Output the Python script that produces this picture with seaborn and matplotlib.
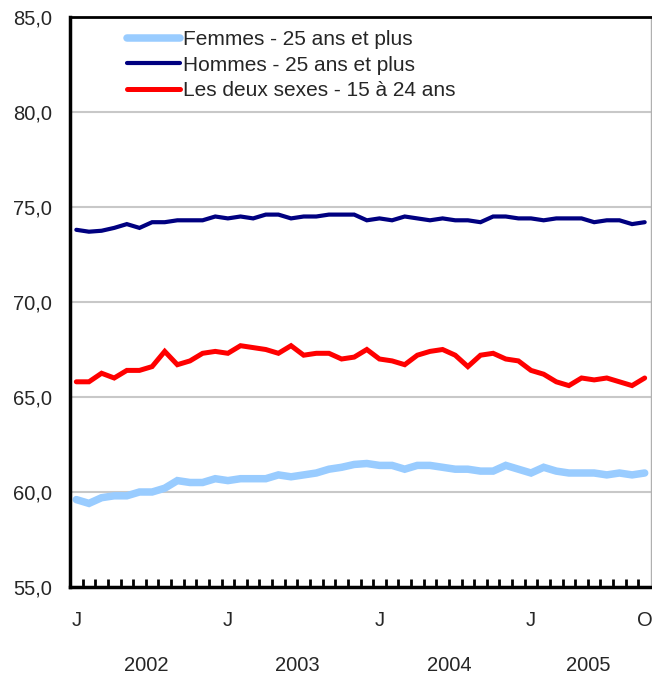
import numpy as np
import pandas as pd
import matplotlib
matplotlib.use("Agg")
import matplotlib.pyplot as plt
from matplotlib.ticker import FixedLocator, FuncFormatter
import seaborn as sns

# --- DONNEES (janvier 2002 a octobre 2005, mensuel) ---
femmes = [59.6, 59.4, 59.7, 59.8, 59.8, 60.0, 60.0, 60.2, 60.6, 60.5, 60.5, 60.7,
          60.6, 60.7, 60.7, 60.7, 60.9, 60.8, 60.9, 61.0, 61.2, 61.3, 61.45, 61.5,
          61.4, 61.4, 61.2, 61.4, 61.4, 61.3, 61.2, 61.2, 61.1, 61.1, 61.4, 61.2,
          61.0, 61.3, 61.1, 61.0, 61.0, 61.0, 60.9, 61.0, 60.9, 61.0]
hommes = [73.8, 73.7, 73.75, 73.9, 74.1, 73.9, 74.2, 74.2, 74.3, 74.3, 74.3, 74.5,
          74.4, 74.5, 74.4, 74.6, 74.6, 74.4, 74.5, 74.5, 74.6, 74.6, 74.6, 74.3,
          74.4, 74.3, 74.5, 74.4, 74.3, 74.4, 74.3, 74.3, 74.2, 74.5, 74.5, 74.4,
          74.4, 74.3, 74.4, 74.4, 74.4, 74.2, 74.3, 74.3, 74.1, 74.2]
jeunes = [65.8, 65.8, 66.25, 66.0, 66.4, 66.4, 66.6, 67.4, 66.7, 66.9, 67.3, 67.4,
          67.3, 67.7, 67.6, 67.5, 67.3, 67.7, 67.2, 67.3, 67.3, 67.0, 67.1, 67.5,
          67.0, 66.9, 66.7, 67.2, 67.4, 67.5, 67.2, 66.6, 67.2, 67.3, 67.0, 66.9,
          66.4, 66.2, 65.8, 65.6, 66.0, 65.9, 66.0, 65.8, 65.6, 66.0]

series_noms = ["Femmes - 25 ans et plus", "Hommes - 25 ans et plus",
               "Les deux sexes - 15 à 24 ans"]
couleurs = ["#99ccff", "#000080", "#ff0000"]
epaisseurs = [5.4, 3.0, 3.6]

mois_labels = ["J", "J", "J", "J", "O"]
mois_pos = [0, 12, 24, 36, 45]
annees = ["2002", "2003", "2004", "2005"]
annee_mois = [range(0, 12), range(12, 24), range(24, 36), range(36, 46)]

mois = np.arange(len(femmes))
df = pd.DataFrame({"mois": np.tile(mois, 3),
                   "taux": femmes + hommes + jeunes,
                   "groupe": np.repeat(series_noms, len(mois))})

sns.set_style("white")
plt.rcParams["font.family"] = ["Liberation Sans", "DejaVu Sans"]
FS = 14.5

fig = plt.figure(figsize=(6.52, 6.76), dpi=100)
ax = fig.add_axes([70 / 652, 89 / 676, 581 / 652, 570 / 676])

for nom, coul, lw in zip(series_noms, couleurs, epaisseurs):
    sns.lineplot(data=df[df["groupe"] == nom], x="mois", y="taux", color=coul,
                 linewidth=lw, label=nom, ax=ax, solid_joinstyle="miter")

ax.set_xlim(-0.5, len(mois) - 0.5)
ax.set_ylim(55, 85)
ax.set_yticks(np.arange(55, 86, 5))
ax.yaxis.set_major_formatter(FuncFormatter(lambda v, p: f"{v:.1f}".replace(".", ",")))
ax.grid(axis="y", color="#c8c8c8", linewidth=1.5)
ax.set_axisbelow(True)

# mois : etiquettes J/O sans trait, traits de separation entre les mois
ax.set_xticks(mois_pos)
ax.set_xticklabels(mois_labels)
ax.xaxis.set_minor_locator(FixedLocator(np.arange(0.5, len(mois) - 0.5, 1)))
ax.tick_params(axis="x", which="major", bottom=True, length=0, pad=17, labelsize=FS)
ax.tick_params(axis="x", which="minor", bottom=True, direction="in", length=6,
               width=2, color="black")
ax.tick_params(axis="y", length=0, pad=13, labelsize=FS)
ax.set_xlabel("")
ax.set_ylabel("")

for nom, rng in zip(annees, annee_mois):
    ax.text(np.mean(list(rng)), -0.137, nom, transform=ax.get_xaxis_transform(),
            ha="center", va="center", fontsize=FS)

for s in ["left", "bottom", "top"]:
    ax.spines[s].set_color("black")
    ax.spines[s].set_linewidth(2.5)
ax.spines["top"].set_linewidth(2)
ax.spines["right"].set_color("#b0b0b0")
ax.spines["right"].set_linewidth(1)

leg = ax.legend(loc="upper left", bbox_to_anchor=(0.083, 0.992), frameon=False,
                fontsize=15, handlelength=2.55, handletextpad=0.15,
                labelspacing=0.32, borderaxespad=0)

fig.savefig("out.png", dpi=100)
